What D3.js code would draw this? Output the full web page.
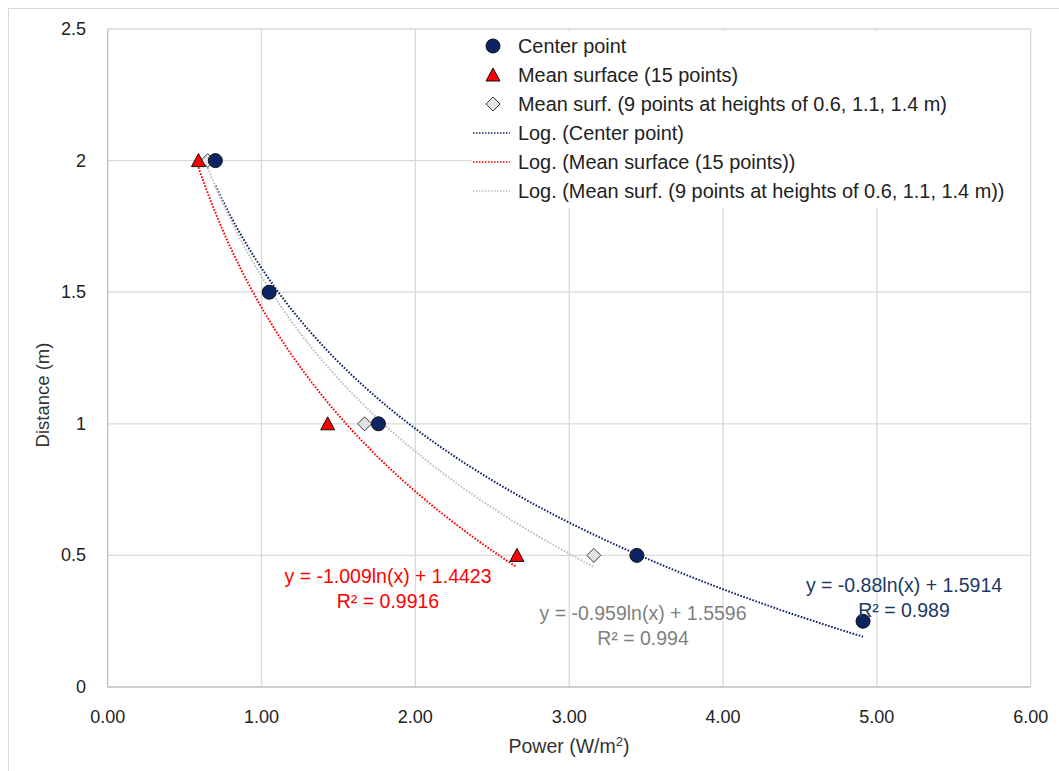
<!DOCTYPE html>
<html>
<head>
<meta charset="utf-8">
<script src="https://cdn.jsdelivr.net/npm/d3@7"></script>
<style>
  body { margin: 0; background: #fff; }
  text { font-family: "Liberation Sans", Arial, sans-serif; }
</style>
</head>
<body>
<svg id="chart" width="1059" height="771"></svg>
<script>
// measured values (power W/m2, distance m)
const centerX = [0.70, 1.05, 1.76, 3.44, 4.91];
const centerY = [2, 1.5, 1, 0.5, 0.25];
const meanX = [0.59, 1.43, 2.66];
const meanY = [2, 1, 0.5];
const surfX = [0.65, 1.67, 3.16];
const surfY = [2, 1, 0.5];

// trendline coefficients y = a ln(x) + b, as printed on the chart
const fits = [
  { name: "Center point", a: -0.88, b: 1.5914, r2: "0.989", xs: centerX },
  { name: "Mean surface (15 points)", a: -1.009, b: 1.4423, r2: "0.9916", xs: meanX },
  { name: "Mean surf. (9 points at heights of 0.6, 1.1, 1.4 m)", a: -0.959, b: 1.5596, r2: "0.994", xs: surfX }
];

const xTicks = [0, 1, 2, 3, 4, 5, 6];
const yTicks = [0, 0.5, 1, 1.5, 2, 2.5];

const navy = "#0c2461";
const navyText = "#203864";
const red = "#ff0000";
const grey = "#bfbfbf";
const greyText = "#7f7f7f";

const svg = d3.select("#chart");
const plotL = 107.7, plotR = 1030.7, plotT = 29, plotB = 687;

const x = d3.scaleLinear().domain([0, 6]).range([plotL, plotR]);
const y = d3.scaleLinear().domain([0, 2.5]).range([plotB, plotT]);

// chart frame
svg.append("rect")
  .attr("x", 8.5).attr("y", 8.5)
  .attr("width", 1060).attr("height", 780)
  .attr("fill", "none")
  .attr("stroke", "#d9d9d9");

// gridlines
svg.append("g")
  .selectAll("line")
  .data(xTicks.slice(1))
  .join("line")
  .attr("x1", d => x(d)).attr("x2", d => x(d))
  .attr("y1", plotT).attr("y2", plotB)
  .attr("stroke", "#d9d9d9").attr("stroke-width", 1.3);

svg.append("g")
  .selectAll("line")
  .data(yTicks.slice(1))
  .join("line")
  .attr("x1", plotL).attr("x2", plotR)
  .attr("y1", d => y(d)).attr("y2", d => y(d))
  .attr("stroke", "#d9d9d9").attr("stroke-width", 1.3);

// axes lines
svg.append("line")
  .attr("x1", plotL).attr("x2", plotR)
  .attr("y1", plotB).attr("y2", plotB)
  .attr("stroke", "#bfbfbf").attr("stroke-width", 1.3);
svg.append("line")
  .attr("x1", plotL).attr("x2", plotL)
  .attr("y1", plotT).attr("y2", plotB)
  .attr("stroke", "#bfbfbf").attr("stroke-width", 1.3);

// tick labels
svg.append("g")
  .selectAll("text")
  .data(xTicks)
  .join("text")
  .attr("x", d => x(d))
  .attr("y", 723)
  .attr("text-anchor", "middle")
  .attr("font-size", "18px")
  .attr("fill", "#222")
  .text(d => d3.format(".2f")(d));

svg.append("g")
  .selectAll("text")
  .data(yTicks)
  .join("text")
  .attr("x", 86)
  .attr("y", d => y(d) + 6)
  .attr("text-anchor", "end")
  .attr("font-size", "18px")
  .attr("fill", "#222")
  .text(d => d);

// axis titles
const xt = svg.append("text")
  .attr("x", 569)
  .attr("y", 753)
  .attr("text-anchor", "middle")
  .attr("font-size", "19.5px")
  .attr("fill", "#333");
xt.append("tspan").text("Power (W/m");
xt.append("tspan").attr("font-size", "13px").attr("dy", -7).text("2");
xt.append("tspan").attr("dy", 7).text(")");

svg.append("text")
  .attr("transform", "translate(49,395) rotate(-90)")
  .attr("text-anchor", "middle")
  .attr("font-size", "18.5px")
  .attr("fill", "#333")
  .text("Distance (m)");

// legend background hides the grid behind it
svg.append("rect")
  .attr("x", 472).attr("y", 31)
  .attr("width", 558).attr("height", 177)
  .attr("fill", "#fff");

// trendlines
const lineColors = [navy, red, grey];
fits.forEach((f, i) => {
  const x0 = d3.min(f.xs), x1 = d3.max(f.xs);
  const pts = d3.range(0, 101).map(k => {
    const xv = x0 + (x1 - x0) * k / 100;
    return [xv, f.a * Math.log(xv) + f.b];
  });
  svg.append("path")
    .datum(pts)
    .attr("d", d3.line().x(d => x(d[0])).y(d => y(d[1])))
    .attr("fill", "none")
    .attr("stroke", lineColors[i])
    .attr("stroke-width", 2)
    .attr("stroke-dasharray", "1.6 1.6");
});

// markers
function triangle(g, cx, cy) {
  g.append("path")
    .attr("d", `M${cx},${cy - 7}L${cx + 7},${cy + 6}L${cx - 7},${cy + 6}Z`)
    .attr("fill", red).attr("stroke", "#111").attr("stroke-width", 1);
}
function diamond(g, cx, cy) {
  g.append("path")
    .attr("d", `M${cx},${cy - 7}L${cx + 7},${cy}L${cx},${cy + 7}L${cx - 7},${cy}Z`)
    .attr("fill", "#e3e3e3").attr("stroke", "#3a3a3a").attr("stroke-width", 1);
}
function circle(g, cx, cy) {
  g.append("circle")
    .attr("cx", cx).attr("cy", cy).attr("r", 7)
    .attr("fill", navy).attr("stroke", "#111").attr("stroke-width", 1);
}

const marks = svg.append("g");
surfX.forEach((v, i) => diamond(marks, x(v), y(surfY[i])));
meanX.forEach((v, i) => triangle(marks, x(v), y(meanY[i])));
centerX.forEach((v, i) => circle(marks, x(v), y(centerY[i])));

// legend
const legendNames = [
  "Center point",
  "Mean surface (15 points)",
  "Mean surf. (9 points at heights of 0.6, 1.1, 1.4 m)",
  "Log. (Center point)",
  "Log. (Mean surface (15 points))",
  "Log. (Mean surf. (9 points at heights of 0.6, 1.1, 1.4 m))"
];
const lg = svg.append("g");
legendNames.forEach((name, i) => {
  const ly = 46 + i * 29;
  if (i === 0) circle(lg, 493, ly);
  if (i === 1) triangle(lg, 493, ly);
  if (i === 2) diamond(lg, 493, ly);
  if (i >= 3) {
    lg.append("line")
      .attr("x1", 473).attr("x2", 510)
      .attr("y1", ly).attr("y2", ly)
      .attr("stroke", lineColors[i - 3])
      .attr("stroke-width", 1.5)
      .attr("stroke-dasharray", "1.5 1.5");
  }
  lg.append("text")
    .attr("x", 518)
    .attr("y", ly + 7)
    .attr("font-size", "19.9px")
    .attr("fill", "#222")
    .text(name);
});

// equation labels
const eqPos = [
  { cx: 904, by: 592, color: navyText },
  { cx: 388, by: 583, color: red },
  { cx: 643, by: 620, color: greyText }
];
fits.forEach((f, i) => {
  const p = eqPos[i];
  svg.append("text")
    .attr("x", p.cx).attr("y", p.by)
    .attr("text-anchor", "middle")
    .attr("font-size", "19.5px")
    .attr("fill", p.color)
    .text(`y = ${f.a}ln(x) + ${f.b}`);
  svg.append("text")
    .attr("x", p.cx).attr("y", p.by + 25)
    .attr("text-anchor", "middle")
    .attr("font-size", "19.5px")
    .attr("fill", p.color)
    .text(`R² = ${f.r2}`);
});
</script>
</body>
</html>
